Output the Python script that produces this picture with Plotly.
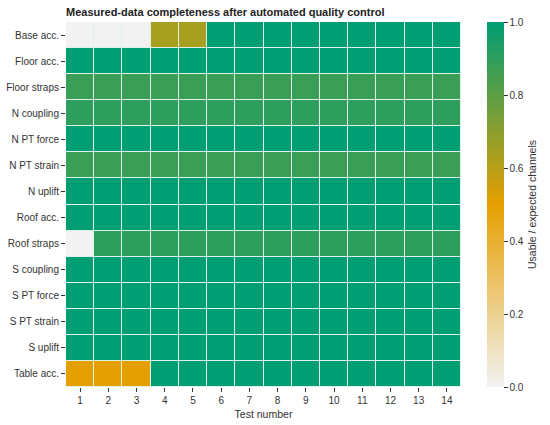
import plotly.graph_objects as go

sensor_groups = ["Base acc.", "Floor acc.", "Floor straps", "N coupling", "N PT force",
                 "N PT strain", "N uplift", "Roof acc.", "Roof straps", "S coupling",
                 "S PT force", "S PT strain", "S uplift", "Table acc."]
test_numbers = list(range(1, 15))

base_acc = [0, 0, 0, 0.64, 0.64, 1, 1, 1, 1, 1, 1, 1, 1, 1]
floor_acc = [1] * 14
floor_straps = [0.875] * 14
n_coupling = [0.9] * 14
n_pt_force = [1] * 14
n_pt_strain = [0.875] * 14
n_uplift = [1] * 14
roof_acc = [1] * 14
roof_straps = [0] + [0.9] * 13
s_coupling = [1] * 14
s_pt_force = [1] * 14
s_pt_strain = [1] * 14
s_uplift = [1] * 14
table_acc = [0.5, 0.5, 0.5] + [1] * 11

z = [base_acc, floor_acc, floor_straps, n_coupling, n_pt_force, n_pt_strain, n_uplift,
     roof_acc, roof_straps, s_coupling, s_pt_force, s_pt_strain, s_uplift, table_acc]

font_family = "Liberation Sans, Arial, sans-serif"
txt = "#333333"

fig = go.Figure(go.Heatmap(
    z=z, x=test_numbers, y=sensor_groups,
    zmin=0, zmax=1,
    colorscale=[[0, "#f2f2f2"], [0.5, "#E69F00"], [1, "#009E73"]],
    xgap=1, ygap=1,
    colorbar=dict(
        title=dict(text="Usable / expected channels", side="right",
                   font=dict(size=10.5, color=txt, family=font_family)),
        x=1.066, xanchor="left", xpad=0, y=0.5, yanchor="middle", ypad=0,
        len=1, lenmode="fraction",
        thickness=17, outlinewidth=0,
        tickvals=[0, 0.2, 0.4, 0.6, 0.8, 1.0], ticktext=["0.0", "0.2", "0.4", "0.6", "0.8", "1.0"],
        ticks="outside", ticklen=4, tickcolor=txt,
        tickfont=dict(size=10, color=txt, family=font_family),
    ),
    hovertemplate="Test %{x}<br>%{y}: %{z:.2f}<extra></extra>",
))

fig.update_layout(
    width=550, height=425,
    margin=dict(l=66, r=89, t=22, b=38, autoexpand=False),
    paper_bgcolor="white", plot_bgcolor="#dff2ea",
    title=dict(text="<b>Measured-data completeness after automated quality control</b>",
               x=66 / 550, xanchor="left", y=1 - 12 / 425, yanchor="middle",
               font=dict(size=11, color="#222222", family=font_family)),
    font=dict(family=font_family, color=txt),
)
fig.update_xaxes(
    title=dict(text="Test number", font=dict(size=10.5, color=txt), standoff=5),
    tickmode="array", tickvals=test_numbers, ticktext=[str(t) for t in test_numbers],
    ticks="outside", ticklen=4, tickcolor=txt, automargin=False,
    tickfont=dict(size=10, color=txt), showgrid=False, zeroline=False,
)
fig.update_yaxes(
    autorange="reversed", ticks="outside", ticklen=4, tickcolor=txt, automargin=False,
    tickfont=dict(size=10, color=txt), showgrid=False, zeroline=False,
)

fig.write_html("out.html", config={"displayModeBar": False},
               post_script="document.body.style.margin='0';document.body.style.overflow='hidden';")
